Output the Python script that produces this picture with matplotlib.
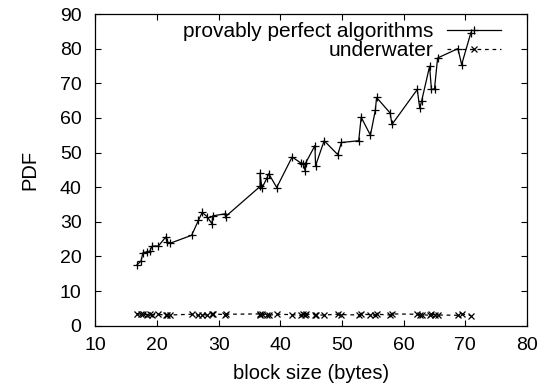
import matplotlib
matplotlib.use("Agg")
import matplotlib.pyplot as plt

plt.rcParams["font.family"] = ["Liberation Sans", "DejaVu Sans"]

# block sizes (bytes), shared by both series
block_size = [
    16.7, 17.4, 17.7, 18.3, 18.8, 19.2, 20.2, 21.4, 21.6, 22.1,
    25.6, 26.7, 27.3, 28.1, 28.9, 29.0, 31.0, 31.1, 36.7, 36.7,
    37.0, 37.8, 38.1, 39.4, 41.9, 43.3, 43.7, 44.0, 44.1, 45.6,
    45.7, 47.1, 49.3, 49.9, 52.7, 53.1, 54.6, 55.4, 55.6, 57.8,
    58.1, 62.2, 62.6, 62.9, 64.2, 64.5, 65.0, 65.5, 68.8, 69.4,
    70.9,
]

provably_perfect = [
    17.5, 18.7, 21.1, 21.3, 21.5, 23.0, 23.0, 25.6, 24.3, 23.8,
    26.1, 30.4, 32.7, 31.5, 29.4, 31.7, 32.3, 31.5, 40.2, 44.1,
    39.7, 42.6, 43.9, 39.9, 48.7, 47.0, 46.8, 44.8, 47.0, 52.0,
    46.2, 53.4, 49.4, 52.9, 53.4, 60.2, 55.0, 62.2, 65.9, 61.4,
    58.1, 68.2, 62.9, 64.8, 74.9, 68.2, 68.4, 77.3, 80.0, 75.4,
    84.6,
]

underwater = [
    3.5, 3.3, 3.4, 3.2, 3.4, 3.1, 3.3, 3.0, 3.2, 3.1,
    3.3, 3.0, 3.2, 3.1, 3.3, 3.4, 3.2, 3.3, 3.4, 3.1,
    3.3, 3.2, 3.0, 3.3, 3.2, 3.0, 3.4, 3.1, 3.3, 3.2,
    3.0, 3.1, 3.3, 3.2, 3.1, 3.3, 3.2, 3.0, 3.3, 3.1,
    3.4, 3.3, 3.1, 3.2, 3.0, 3.3, 3.2, 3.1, 3.0, 3.4,
    2.9,
]

x_ticks = [10, 20, 30, 40, 50, 60, 70, 80]
y_ticks = [0, 10, 20, 30, 40, 50, 60, 70, 80, 90]

fig = plt.figure(figsize=(5.51, 3.90), dpi=100)
ax = fig.add_axes([0.1733, 0.1649, 0.7831, 0.7992])

ax.plot(block_size, provably_perfect, color="black", lw=0.9,
        marker="+", ms=5.5, mew=0.9, label="provably perfect algorithms")
ax.plot(block_size, underwater, color="black", lw=0.9, ls=(0, (3, 3)),
        marker="x", ms=4.5, mew=0.9, label="underwater")

ax.set_xlim(10, 80)
ax.set_ylim(0, 90)
ax.set_xticks(x_ticks)
ax.set_yticks(y_ticks)
ax.tick_params(direction="in", length=4.5, width=0.8, top=True, right=True,
               labelsize=14)
ax.tick_params(axis="x", pad=8)
ax.tick_params(axis="y", pad=10)
for s in ax.spines.values():
    s.set_linewidth(0.9)

ax.set_xlabel("block size (bytes)", fontsize=14.5, labelpad=7)
ax.set_ylabel("PDF", fontsize=14.5, labelpad=15)

ax.legend(loc="upper right", bbox_to_anchor=(0.94, 0.975), frameon=False,
          markerfirst=False, fontsize=15, handlelength=2.6,
          handletextpad=0.65, labelspacing=0.0, borderpad=0,
          borderaxespad=0)

fig.savefig("out.png", dpi=100)
